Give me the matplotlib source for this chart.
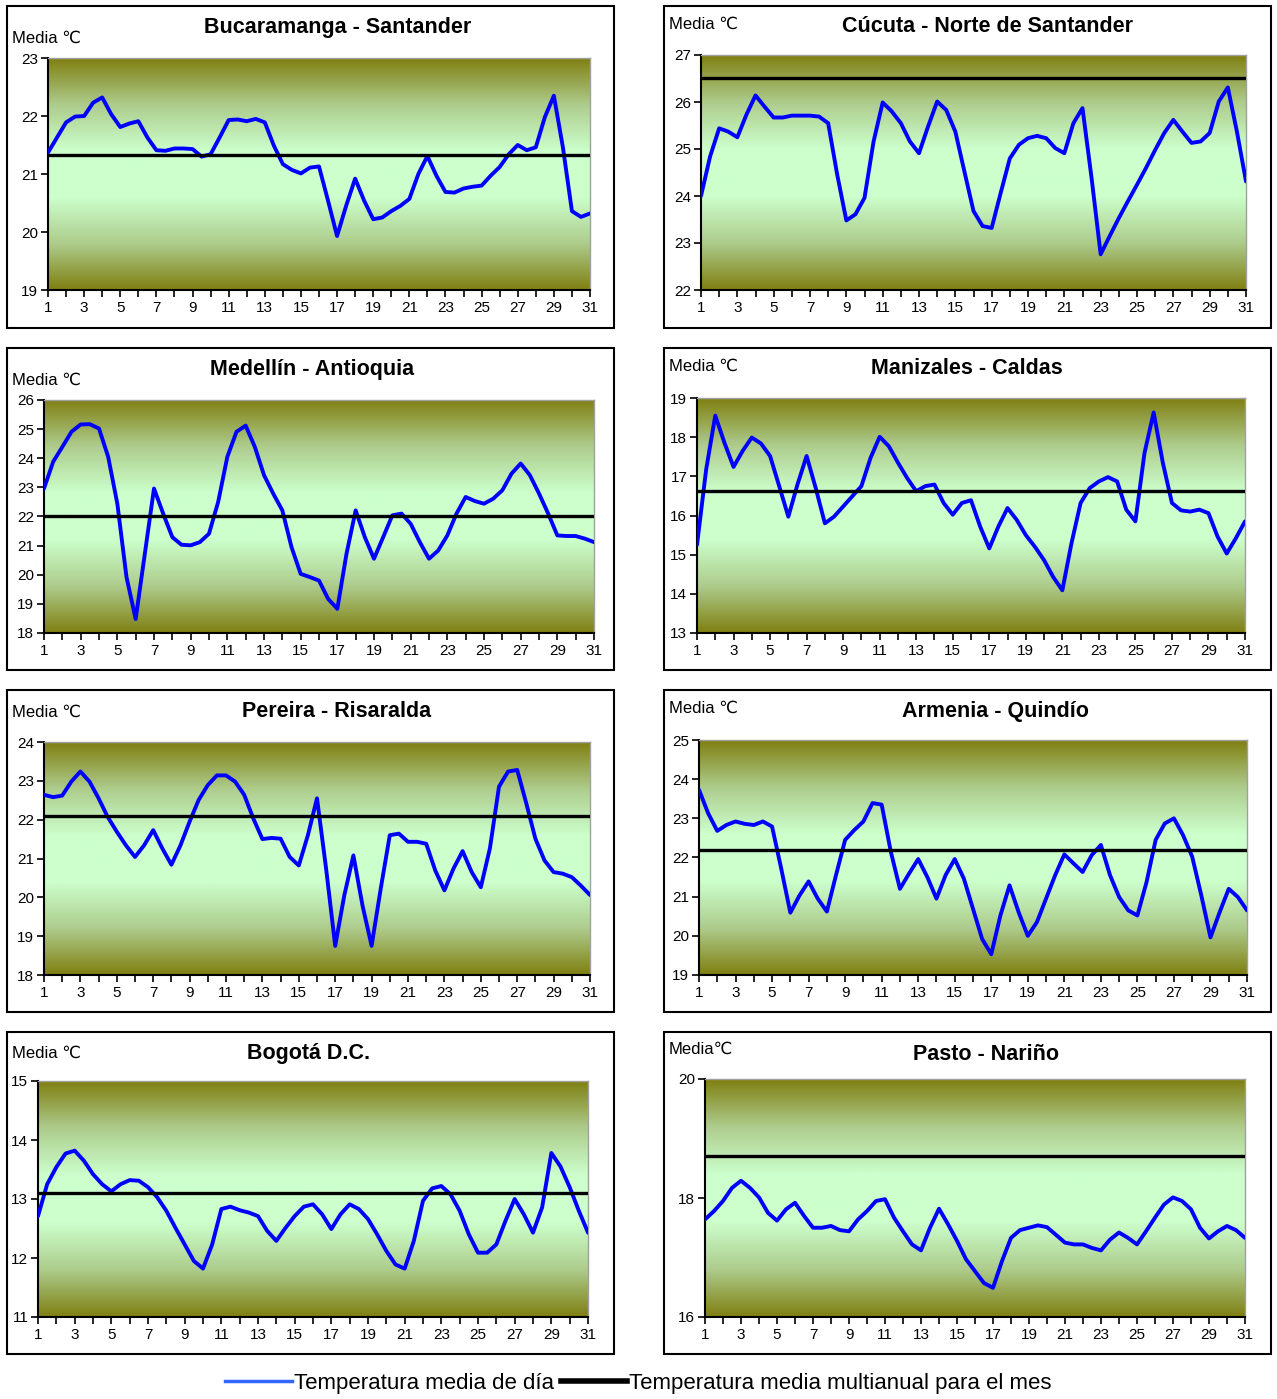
import numpy as np
import matplotlib
matplotlib.use("Agg")
import matplotlib.pyplot as plt
from matplotlib.colors import LinearSegmentedColormap
from matplotlib.patches import Rectangle
from matplotlib.lines import Line2D

plt.rcParams['font.family'] = ['Liberation Sans', 'DejaVu Sans']

# half-day readings, day 1 .. 31
days = np.arange(1, 31.5, 0.5)

titles = ["Bucaramanga - Santander", "Cúcuta - Norte de Santander",
          "Medellín - Antioquia", "Manizales - Caldas",
          "Pereira - Risaralda", "Armenia - Quindío",
          "Bogotá D.C.", "Pasto - Nariño"]
ylabels = ["Media ℃", "Media ℃", "Media ℃", "Media ℃",
           "Media ℃", "Media ℃", "Media ℃", "Media℃"]

bucaramanga = [21.37, 21.63, 21.89, 21.99, 22.00, 22.23, 22.32, 22.03, 21.81, 21.87,
               21.91, 21.63, 21.41, 21.40, 21.44, 21.44, 21.43, 21.30, 21.34, 21.63,
               21.93, 21.94, 21.91, 21.95, 21.89, 21.49, 21.17, 21.07, 21.01, 21.11,
               21.13, 20.54, 19.93, 20.45, 20.92, 20.54, 20.22, 20.25, 20.36, 20.45,
               20.57, 21.00, 21.31, 20.97, 20.69, 20.68, 20.75, 20.78, 20.80, 20.97,
               21.12, 21.34, 21.50, 21.41, 21.46, 21.98, 22.35, 21.46, 20.36, 20.26,
               20.32]
cucuta = [24.00, 24.84, 25.44, 25.37, 25.25, 25.73, 26.14, 25.90, 25.67, 25.67,
          25.71, 25.71, 25.71, 25.69, 25.55, 24.45, 23.48, 23.61, 23.96, 25.16,
          25.99, 25.80, 25.55, 25.16, 24.91, 25.48, 26.01, 25.83, 25.37, 24.52,
          23.68, 23.36, 23.32, 24.07, 24.80, 25.09, 25.23, 25.28, 25.23, 25.02,
          24.91, 25.55, 25.87, 24.38, 22.76, 23.15, 23.53, 23.89, 24.24, 24.60,
          24.98, 25.34, 25.62, 25.37, 25.13, 25.16, 25.34, 26.01, 26.31, 25.37,
          24.31]
medellin = [22.96, 23.88, 24.39, 24.91, 25.16, 25.17, 25.02, 24.05, 22.44, 19.92,
            18.48, 20.72, 22.96, 22.10, 21.29, 21.03, 21.01, 21.12, 21.41, 22.50,
            24.05, 24.91, 25.12, 24.39, 23.42, 22.79, 22.21, 20.95, 20.03, 19.92,
            19.80, 19.17, 18.83, 20.72, 22.21, 21.29, 20.55, 21.29, 22.04, 22.10,
            21.75, 21.12, 20.55, 20.83, 21.35, 22.10, 22.67, 22.53, 22.44, 22.61,
            22.90, 23.47, 23.82, 23.42, 22.79, 22.10, 21.35, 21.33, 21.33, 21.24,
            21.12]
manizales = [15.25, 17.17, 18.55, 17.86, 17.24, 17.65, 17.99, 17.84, 17.52, 16.75,
             15.97, 16.79, 17.52, 16.70, 15.80, 15.97, 16.23, 16.49, 16.75, 17.47,
             18.01, 17.77, 17.35, 16.96, 16.62, 16.75, 16.79, 16.32, 16.02, 16.32,
             16.39, 15.72, 15.16, 15.72, 16.19, 15.89, 15.50, 15.20, 14.86, 14.43,
             14.09, 15.29, 16.32, 16.70, 16.87, 16.98, 16.87, 16.15, 15.85, 17.60,
             18.63, 17.35, 16.32, 16.13, 16.10, 16.15, 16.06, 15.46, 15.03, 15.42,
             15.85]
pereira = [22.64, 22.58, 22.62, 22.98, 23.24, 22.98, 22.55, 22.07, 21.69, 21.34,
           21.04, 21.34, 21.73, 21.26, 20.84, 21.34, 21.95, 22.51, 22.89, 23.14,
           23.14, 22.98, 22.64, 22.03, 21.50, 21.53, 21.51, 21.04, 20.82, 21.60,
           22.55, 20.74, 18.75, 20.05, 21.08, 19.79, 18.75, 20.22, 21.60, 21.64,
           21.43, 21.43, 21.38, 20.69, 20.18, 20.74, 21.19, 20.65, 20.26, 21.26,
           22.85, 23.24, 23.28, 22.42, 21.51, 20.95, 20.65, 20.61, 20.52, 20.30,
           20.06]
armenia = [23.73, 23.13, 22.68, 22.83, 22.92, 22.86, 22.83, 22.92, 22.79, 21.72,
           20.59, 21.03, 21.39, 20.95, 20.62, 21.55, 22.45, 22.70, 22.92, 23.39,
           23.35, 22.15, 21.20, 21.59, 21.96, 21.50, 20.95, 21.55, 21.96, 21.46,
           20.69, 19.92, 19.53, 20.52, 21.29, 20.60, 20.00, 20.35, 20.95, 21.55,
           22.08, 21.85, 21.63, 22.06, 22.32, 21.55, 20.99, 20.65, 20.52, 21.37,
           22.45, 22.87, 23.00, 22.57, 22.02, 21.03, 19.96, 20.60, 21.20, 20.99,
           20.65]
bogota = [12.71, 13.25, 13.54, 13.77, 13.82, 13.65, 13.42, 13.25, 13.13, 13.25,
          13.32, 13.31, 13.20, 13.03, 12.80, 12.51, 12.23, 11.95, 11.82, 12.23,
          12.83, 12.87, 12.81, 12.77, 12.71, 12.46, 12.29, 12.51, 12.71, 12.87,
          12.91, 12.74, 12.49, 12.74, 12.91, 12.83, 12.66, 12.40, 12.12, 11.89,
          11.82, 12.29, 12.97, 13.18, 13.22, 13.08, 12.80, 12.40, 12.09, 12.09,
          12.23, 12.63, 13.00, 12.74, 12.43, 12.86, 13.78, 13.55, 13.20, 12.80,
          12.43]
pasto = [17.64, 17.78, 17.95, 18.17, 18.29, 18.17, 18.01, 17.75, 17.62, 17.81,
         17.92, 17.70, 17.50, 17.50, 17.53, 17.46, 17.44, 17.64, 17.78, 17.95,
         17.98, 17.67, 17.44, 17.22, 17.12, 17.50, 17.82, 17.56, 17.28, 16.97,
         16.77, 16.57, 16.49, 16.94, 17.33, 17.46, 17.50, 17.54, 17.51, 17.38,
         17.25, 17.22, 17.22, 17.16, 17.12, 17.30, 17.42, 17.33, 17.22, 17.44,
         17.67, 17.89, 18.01, 17.95, 17.81, 17.50, 17.32, 17.44, 17.53, 17.46,
         17.33]

series = [bucaramanga, cucuta, medellin, manizales, pereira, armenia, bogota, pasto]
means = [21.33, 26.52, 22.00, 16.62, 22.10, 22.20, 13.11, 18.70]
ylims = [(19, 23), (22, 27), (18, 26), (13, 19), (18, 24), (19, 25), (11, 15), (16, 20)]
ysteps = [1, 1, 1, 1, 1, 1, 1, 2]

# layout in pixels of the 1277x1399 image
W, H = 1277, 1399
plot_boxes = [(48, 590, 58, 290), (701, 1246, 55, 290),
              (44, 594, 400, 633), (697, 1245, 398, 633),
              (44, 590, 742, 975), (699, 1247, 740, 975),
              (38, 588, 1081, 1317), (705, 1245, 1079, 1317)]
title_pos = [(338, 27), (987, 27), (312, 369), (967, 369),
             (337, 711), (995, 711), (309, 1054), (986, 1054)]
media_pos = [(12, 38), (669, 24), (12, 380), (669, 366),
             (12, 712), (669, 708), (12, 1053), (669, 1049)]
frame_x = [(7, 614), (664, 1271)]
frame_y = [(6, 328), (348, 670), (690, 1012), (1032, 1354)]

olive = (0.50, 0.50, 0.07)
pale = (0.80, 1.00, 0.80)
cmap = LinearSegmentedColormap.from_list("bg", [olive, (0.68, 0.80, 0.55), pale, pale,
                                                (0.68, 0.80, 0.55), olive])
grad = np.linspace(0, 1, 256).reshape(-1, 1)

fig = plt.figure(figsize=(W / 100, H / 100), dpi=100)

for fx in frame_x:
    for fy in frame_y:
        fig.patches.append(Rectangle((fx[0] / W, 1 - fy[1] / H), (fx[1] - fx[0]) / W,
                                     (fy[1] - fy[0]) / H, transform=fig.transFigure,
                                     fill=False, edgecolor='black', linewidth=1.5))

for i in range(8):
    l, r, t, b = plot_boxes[i]
    ax = fig.add_axes([l / W, 1 - b / H, (r - l) / W, (b - t) / H])
    ax.imshow(grad, cmap=cmap, aspect='auto', extent=[0, 1, 0, 1],
              transform=ax.transAxes, zorder=0)
    ax.plot(days, series[i], color='#0000ff', linewidth=2.8, zorder=3,
            solid_joinstyle='round', solid_capstyle='round')
    ax.axhline(means[i], color='black', linewidth=2.4, zorder=4)
    ax.set_xlim(1, 31)
    ax.set_ylim(*ylims[i])
    ax.set_xticks(range(1, 32))
    ax.set_xticklabels([str(d) if d % 2 == 1 else "" for d in range(1, 32)])
    ax.set_yticks(np.arange(ylims[i][0], ylims[i][1] + 0.1, ysteps[i]))
    ax.tick_params(axis='both', direction='out', length=5, width=1.2,
                   labelsize=11, pad=3)
    ax.tick_params(axis='y', pad=2)
    for s in ['left', 'bottom']:
        ax.spines[s].set_linewidth(1.5)
        ax.spines[s].set_color('black')
    for s in ['top', 'right']:
        ax.spines[s].set_linewidth(1.0)
        ax.spines[s].set_color('#a0a0a0')
    tx, ty = title_pos[i]
    fig.text(tx / W, 1 - ty / H, titles[i], ha='center', va='center',
             fontsize=15.5, fontweight='bold')
    mx, my = media_pos[i]
    fig.text(mx / W, 1 - my / H, ylabels[i], ha='left', va='center', fontsize=12)

leg_blue = Line2D([], [], color='#3366ff', linewidth=2.5)
leg_black = Line2D([], [], color='black', linewidth=4)
fig.legend([leg_blue, leg_black],
           ["Temperatura media de día", "Temperatura media multianual para el mes"],
           loc='center', bbox_to_anchor=(0.5, 1 - 1383 / H), ncol=2, frameon=False,
           handlelength=3.0, handletextpad=0.1, columnspacing=0.3,
           prop={'family': ['Liberation Sans Narrow', 'Liberation Sans', 'DejaVu Sans'],
                 'size': 16})

fig.savefig("out.png", dpi=100)
